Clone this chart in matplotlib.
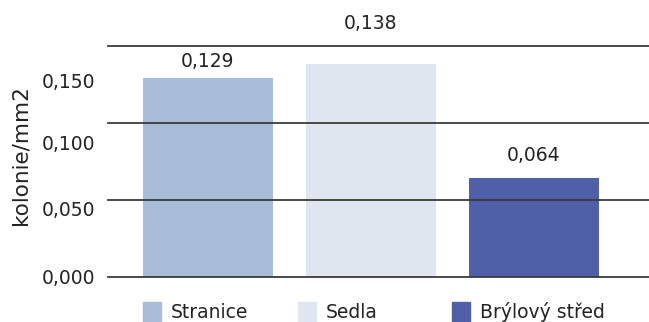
import matplotlib
matplotlib.use("Agg")
import matplotlib.pyplot as plt
from matplotlib.patches import Rectangle
from matplotlib.transforms import ScaledTranslation

categories = ["Stranice", "Sedla", "Brýlový střed"]
values = [0.129, 0.138, 0.064]
value_labels = ["0,129", "0,138", "0,064"]
colors = ["#a7bcd6", "#dfe6f0", "#4f5fa8"]
y_ticks = [0.0, 0.05, 0.10, 0.15]
y_tick_labels = ["0,000", "0,050", "0,100", "0,150"]

W, H = 649, 322
fig = plt.figure(figsize=(W / 100, H / 100), dpi=100)
ax = fig.add_axes([108 / W, (H - 277) / H, 541 / W, (277 - 46) / H])

x = range(len(categories))
ax.bar(x, values, width=0.8, color=colors, zorder=2)
ax.set_xlim(-0.613, 2.706)
ax.set_ylim(0, 0.15)

# horizontal rules drawn above the bars
for t in y_ticks:
    ax.axhline(t, color="#3a3a3a", lw=1.3, zorder=3, clip_on=False)

for s in ax.spines.values():
    s.set_visible(False)
ax.set_xticks([])
ax.set_yticks(y_ticks)
ax.set_yticklabels(y_tick_labels, fontsize=13.5, color="#222222")
ax.tick_params(axis="y", length=0, pad=9)

# tick labels sit a little below their rules
shifts = [0, 9, 20, 34]
for lab, dy in zip(ax.get_yticklabels(), shifts):
    lab.set_transform(lab.get_transform() + ScaledTranslation(0, -dy / 100, fig.dpi_scale_trans))

ax.set_ylabel("kolonie/mm2", fontsize=15.5, color="#222222")
ax.yaxis.set_label_coords(-0.144, 0.53)

# value labels above the bars
lifts = [17, 41, 23]
for i, (v, txt) in enumerate(zip(values, value_labels)):
    ax.annotate(txt, (i, v), xytext=(0, lifts[i] * 0.72), textcoords="offset points",
                ha="center", va="center", fontsize=13.5, color="#222222")

# legend laid out in equal slots
for i, (name, c) in enumerate(zip(categories, colors)):
    x0 = 143 + i * 154.5
    fig.add_artist(Rectangle((x0 / W, 0), 18 / W, 20 / H, transform=fig.transFigure,
                             color=c, clip_on=False))
    fig.text((x0 + 28) / W, 10 / H, name, fontsize=13.5, color="#222222",
             ha="left", va="center")

fig.savefig("out.png", dpi=100)
